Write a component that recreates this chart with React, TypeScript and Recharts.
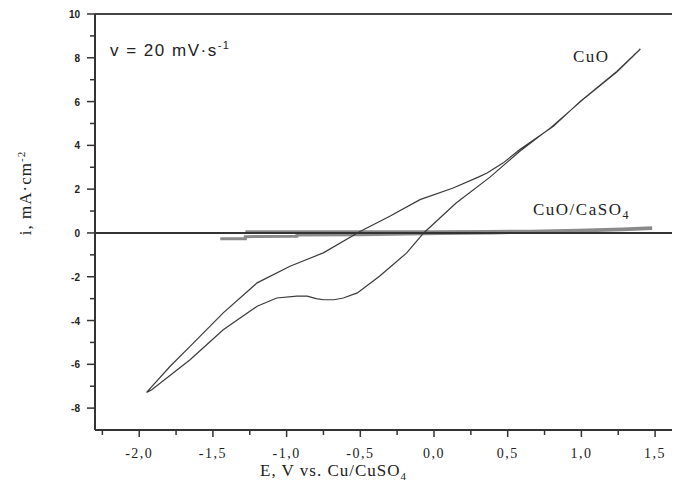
import React from 'react';
import { ComposedChart, Line, XAxis, YAxis, ReferenceLine } from 'recharts';

// CuO, cathodic sweep (from the positive end down to the negative end)
const cuoCathodicE = [1.40, 1.24, 1.01, 0.79, 0.58, 0.38, 0.15, -0.07, -0.185, -0.37, -0.52, -0.615, -0.68, -0.75, -0.80, -0.86, -0.93, -1.067, -1.20, -1.43, -1.655, -1.915, -1.95];
const cuoCathodicI = [8.40, 7.35, 6.09, 4.80, 3.72, 2.55, 1.37, 0.0, -0.91, -1.98, -2.74, -2.97, -3.05, -3.05, -3.0, -2.89, -2.89, -2.97, -3.35, -4.42, -5.79, -7.16, -7.28];
// CuO, anodic sweep (back up)
const cuoAnodicE = [-1.95, -1.79, -1.655, -1.43, -1.20, -0.977, -0.751, -0.502, -0.30, -0.095, 0.13, 0.30, 0.36, 0.47, 0.58, 0.81, 0.99, 1.24, 1.40];
const cuoAnodicI = [-7.28, -6.09, -5.18, -3.65, -2.28, -1.52, -0.91, 0.07, 0.76, 1.52, 2.05, 2.55, 2.74, 3.2, 3.8, 4.87, 6.0, 7.38, 8.4];

// CuO/CaSO4, nearly flat
const caso4E = [-1.28, -0.5, 0.0, 0.38, 0.66, 0.98, 1.28, 1.47, 1.47, 1.28, 0.98, 0.68, 0.4, 0.05, -0.5, -0.93, -0.93, -1.28, -1.28, -1.45];
const caso4I = [0.06, 0.06, 0.06, 0.07, 0.08, 0.12, 0.18, 0.23, 0.2, 0.15, 0.09, 0.05, 0.0, -0.03, -0.08, -0.09, -0.15, -0.17, -0.26, -0.27];

const xTicks = [-2.25, -2.0, -1.75, -1.5, -1.25, -1.0, -0.75, -0.5, -0.25, 0, 0.25, 0.5, 0.75, 1.0, 1.25, 1.5];
const yTicks = [-8, -7, -6, -5, -4, -3, -2, -1, 0, 1, 2, 3, 4, 5, 6, 7, 8, 9, 10];

const pts = (xs: number[], ys: number[]) => xs.map((x, i) => ({ x, y: ys[i] }));
const cuoData = [...pts(cuoCathodicE, cuoCathodicI), ...pts(cuoAnodicE, cuoAnodicI)];
const caso4Data = pts(caso4E, caso4I);

const serif = '"Liberation Serif", "DejaVu Serif", serif';
const sans = '"Liberation Sans", Arial, sans-serif';

const fmtX = (v: number) => (v < 0 ? '-' : '') + Math.abs(v).toFixed(1).replace('.', ',');

const XTick = (props: any) => {
  const { x, y, payload } = props;
  const v = payload.value;
  const major = Math.abs(v * 2 - Math.round(v * 2)) < 1e-6;
  return (
    <g>
      <line x1={x} x2={x} y1={y} y2={y + (major ? 7 : 5)} stroke="#333" strokeWidth={1.5} />
      {major && (
        <text x={x} y={y + 28} textAnchor="middle" fontFamily={serif} fontSize={14} fill="#222" letterSpacing={1.5}>
          {fmtX(v)}
        </text>
      )}
    </g>
  );
};

const YTick = (props: any) => {
  const { x, y, payload } = props;
  const v = payload.value;
  const major = v % 2 === 0;
  return (
    <g>
      <line x1={x - (major ? 8 : 5)} x2={x} y1={y} y2={y} stroke="#333" strokeWidth={1.5} />
      {major && (
        <text x={x - 15} y={y + 4} textAnchor="end" fontFamily={sans} fontWeight="bold" fontSize={10} fill="#222">
          {v}
        </text>
      )}
    </g>
  );
};

const abs = (left: number, top: number, extra: React.CSSProperties = {}): React.CSSProperties => ({
  position: 'absolute', left, top, whiteSpace: 'nowrap', lineHeight: 1, color: '#222', ...extra,
});

export default function App() {
  return (
    <div style={{ position: 'relative', width: 672, height: 489 }}>
      <ComposedChart width={672} height={489} margin={{ top: 6, right: 0, bottom: 0, left: 0 }}>
        <XAxis
          dataKey="x"
          type="number"
          domain={[-2.3, 1.669]}
          ticks={xTicks}
          interval={0}
          height={67}
          tickSize={0}
          tickMargin={0}
          tickLine={false}
          tick={<XTick />}
          axisLine={{ stroke: '#333', strokeWidth: 2 }}
          allowDataOverflow
        />
        <YAxis
          type="number"
          domain={[-9, 10]}
          ticks={yTicks}
          interval={0}
          width={87}
          tickSize={0}
          tickMargin={0}
          tickLine={false}
          tick={<YTick />}
          axisLine={{ stroke: '#333', strokeWidth: 2 }}
          allowDataOverflow
        />
        <ReferenceLine y={10} stroke="#444" strokeWidth={2} />
        <Line
          data={caso4Data}
          dataKey="y"
          type="linear"
          stroke="#8a8a8a"
          strokeWidth={3}
          dot={false}
          isAnimationActive={false}
        />
        <ReferenceLine y={0} stroke="#333" strokeWidth={2} />
        <Line
          data={cuoData}
          dataKey="y"
          type="linear"
          stroke="#3a3a3a"
          strokeWidth={1.2}
          dot={false}
          isAnimationActive={false}
        />
      </ComposedChart>

      <div style={abs(102, 32, { fontFamily: sans, fontSize: 17, letterSpacing: 1.5 })}>
        v = 20 mV·s<sup style={{ fontSize: 11 }}>-1</sup>
      </div>
      <div style={abs(565, 40, { fontFamily: serif, fontSize: 17, letterSpacing: 1.5 })}>CuO</div>
      <div style={abs(525, 193, { fontFamily: serif, fontSize: 17, letterSpacing: 1.5 })}>
        CuO/CaSO<sub style={{ fontSize: 12 }}>4</sub>
      </div>
      <div
        style={abs(17, 185, {
          fontFamily: serif,
          fontSize: 17,
          letterSpacing: 1,
          transform: 'translate(-50%, -50%) rotate(-90deg)',
        })}
      >
        i, mA·cm<sup style={{ fontSize: 11 }}>-2</sup>
      </div>
      <div style={abs(252, 454, { fontFamily: serif, fontSize: 17, letterSpacing: 1 })}>
        E, V vs. Cu/CuSO<sub style={{ fontSize: 11 }}>4</sub>
      </div>
    </div>
  );
}
